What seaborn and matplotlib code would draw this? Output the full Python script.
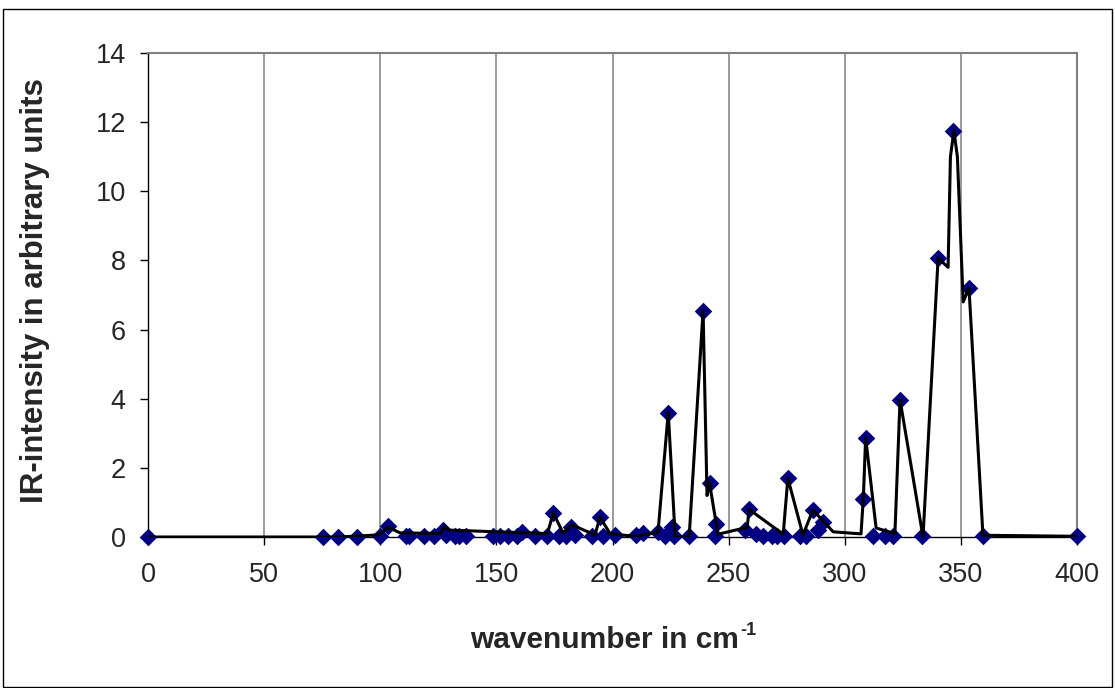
"""
IR spectrum: computed intensities vs wavenumber, Excel-like look.
"""
import matplotlib
matplotlib.use("Agg")
import matplotlib.pyplot as plt
import seaborn as sns
import pandas as pd
from matplotlib.patches import Rectangle

# ------------------------------------------------------------data------------------------------------------------------ #

# diamond markers (computed modes)
peak_x = [0, 75.4, 82, 90, 100, 103.5, 111, 112.5, 119, 123, 127, 128.5, 132, 134, 137,
          148.5, 151.5, 155, 159, 161, 166.6, 172, 174.5, 177, 180, 182, 184, 191, 194.6,
          196, 201, 210, 213, 219.6, 222.5, 224, 225.5, 226.5, 233, 239, 241.8, 244, 244.5,
          257, 258.8, 262, 265, 268.7, 271, 274, 275.5, 280.7, 283.3, 286.3, 288.5, 290.6,
          308, 309, 312, 317.3, 320.8, 323.8, 333.3, 340.2, 346.8, 353.5, 359.5, 400]
peak_y = [0, 0, 0, 0, 0.02, 0.32, 0.03, 0.03, 0.02, 0.02, 0.2, 0.05, 0.02, 0.02, 0.02,
          0.03, 0.03, 0.02, 0.02, 0.15, 0.02, 0.03, 0.7, 0.02, 0.02, 0.3, 0.05, 0.02, 0.58,
          0.03, 0.05, 0.05, 0.12, 0.15, 0.02, 3.6, 0.3, 0.03, 0.02, 6.55, 1.55, 0.02, 0.38,
          0.2, 0.8, 0.08, 0.03, 0.02, 0.02, 0.03, 1.72, 0.02, 0.02, 0.78, 0.2, 0.42,
          1.1, 2.87, 0.02, 0.02, 0.02, 3.97, 0.02, 8.07, 11.75, 7.2, 0.02, 0.02]

# black connecting curve
curve_x = [0, 75, 82, 99, 103.5, 108.5, 125.7, 128, 129.5, 150, 172, 174.5, 178.7, 182.5,
           192.5, 194.6, 199, 210, 219.6, 224, 227, 233, 239, 240.7, 241.8, 245.4, 258,
           258.8, 273.5, 275.5, 282, 286.3, 295, 307, 308, 309, 313.5, 321.6, 323.8, 333.7,
           340.2, 344.5, 345.5, 347, 348.5, 351, 353.5, 359.5, 400]
curve_y = [0, 0, 0, 0.06, 0.28, 0.12, 0.1, 0.3, 0.2, 0.15, 0.1, 0.7, 0.12, 0.35,
           0.06, 0.58, 0.09, 0.02, 0.14, 3.6, 0, 0, 6.55, 1.2, 1.55, 0.08, 0.28,
           0.8, 0.08, 1.7, 0.06, 0.78, 0.15, 0.09, 1.12, 2.87, 0.26, 0.1, 3.97, 0,
           8.07, 7.8, 11.0, 11.75, 11.0, 6.8, 7.2, 0.05, 0.02]

x_ticks = [0, 50, 100, 150, 200, 250, 300, 350, 400]
y_ticks = [0, 2, 4, 6, 8, 10, 12, 14]

# -------------------------------------------------------plotting----------------------------------------------------- #

sns.set_theme(context="notebook", style="white")
plt.rcParams['font.family'] = ['Liberation Sans', 'DejaVu Sans']

peaks = pd.DataFrame({"x": peak_x, "y": peak_y})
curve = pd.DataFrame({"x": curve_x, "y": curve_y})

fig = plt.figure(figsize=(11.15, 6.88), dpi=100)
ax = fig.add_axes([148 / 1115, 1 - 537 / 688, (1077 - 148) / 1115, (537 - 53) / 688])

# outer frame of the chart
fig.patches.append(Rectangle((3 / 1115, 0.002), 1 - 6 / 1115, 1 - 10 / 688,
                             transform=fig.transFigure, fill=False,
                             edgecolor="black", linewidth=1.0))

for xv in x_ticks[1:]:
    ax.axvline(xv, color="#808080", linewidth=1.1, zorder=0)

sns.scatterplot(data=peaks, x="x", y="y", marker="D", s=80, color="#000080",
                edgecolor="#000080", linewidth=0, ax=ax, zorder=3, clip_on=False)
sns.lineplot(data=curve, x="x", y="y", sort=False, estimator=None, color="black",
             linewidth=2.2, ax=ax, zorder=4)

ax.set_xlim(0, 400)
ax.set_ylim(0, 14)
ax.set_xticks(x_ticks)
ax.set_yticks(y_ticks)
ax.tick_params(axis="both", labelsize=19.5, length=6, width=1.0, color="black",
               direction="out", left=True, bottom=True)
ax.tick_params(axis="x", pad=12)
ax.tick_params(axis="y", pad=10)

for side in ["top", "right"]:
    ax.spines[side].set_color("#808080")
    ax.spines[side].set_linewidth(1.5)
for side in ["left", "bottom"]:
    ax.spines[side].set_color("black")
    ax.spines[side].set_linewidth(1.0)
    ax.spines[side].set_zorder(2)

ax.set_xlabel("wavenumber in cm", fontsize=21.5, fontweight="bold")
ax.set_ylabel("IR-intensity in arbitrary units", fontsize=22.5, fontweight="bold")
ax.xaxis.set_label_coords(0.5 - 8 / 929, -0.183)
ax.yaxis.set_label_coords(-0.106, 0.51)
ax.grid(False)

# superscript -1 after "cm"
fig.canvas.draw()
bb = ax.xaxis.label.get_window_extent()
fig.text((bb.x1 + 1) / 1115, (bb.y1 + 4) / 688, "-1", fontsize=13, fontweight="bold",
         ha="left", va="top")

fig.savefig("out.png", dpi=100, facecolor="white")
